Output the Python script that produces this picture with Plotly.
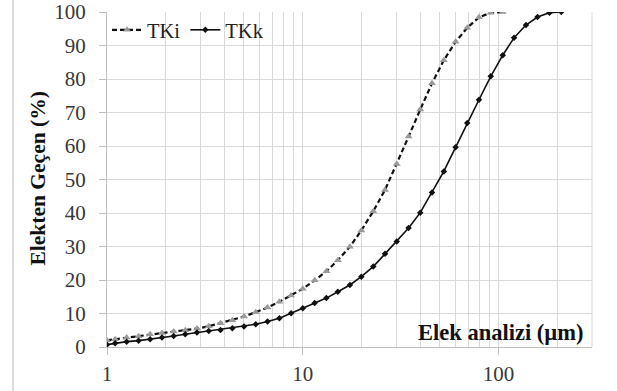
import plotly.graph_objects as go

# particle size (µm)
size_um = [1.0, 1.10, 1.26, 1.45, 1.66, 1.91, 2.19, 2.51, 2.88, 3.31, 3.80, 4.37, 5.01,
           5.75, 6.61, 7.59, 8.71, 10.0, 11.5, 13.2, 15.1, 17.4, 19.9, 22.9, 26.3,
           30.2, 34.7, 39.8, 45.7, 52.5, 60.3, 69.2, 79.4, 91.2, 105, 120, 138, 158,
           182, 209]

# cumulative passing (%)
tki = [2.0, 2.3, 2.8, 3.2, 3.8, 4.2, 4.6, 5.0, 5.5, 6.2, 7.1, 8.0, 9.1, 10.4, 11.8,
       13.5, 15.4, 17.4, 19.9, 22.6, 25.9, 29.9, 34.8, 40.5, 46.9, 54.6, 62.8, 70.9,
       78.7, 85.6, 91.1, 95.3, 98.4, 99.8, 100.0]
tkk = [0.7, 1.1, 1.6, 1.9, 2.3, 2.8, 3.3, 3.8, 4.3, 4.8, 5.1, 5.6, 6.1, 6.8, 7.6,
       8.6, 10.1, 11.6, 13.1, 14.6, 16.5, 18.5, 21.0, 24.0, 27.8, 31.5, 35.5, 40.1,
       46.1, 52.4, 59.6, 66.9, 73.8, 80.8, 87.1, 92.3, 96.1, 98.5, 99.8, 100.0]

y_ticks = list(range(0, 101, 10))
x_ticks = [1, 10, 100]
x_minor = [2, 3, 4, 5, 6, 7, 8, 9, 20, 30, 40, 50, 60, 70, 80, 90, 200]

SERIF = "Liberation Serif"
GRID = "#d9d9d9"

fig = go.Figure()
fig.add_trace(go.Scatter(
    x=size_um[:len(tki)], y=tki, name="TKi", mode="lines+markers",
    line=dict(color="#111111", width=2.2, dash="5px,3px"),
    marker=dict(symbol="triangle-up", size=7, color="#9a9a9a"),
))
fig.add_trace(go.Scatter(
    x=size_um[:len(tkk)], y=tkk, name="TKk", mode="lines+markers",
    line=dict(color="#111111", width=1.6),
    marker=dict(symbol="diamond", size=5, color="#111111"),
))

L, R, T, B = 107, 25, 12, 44
W, H = 617, 391
pw = W - L - R
ph = H - T - B

fig.update_layout(
    width=W, height=H, autosize=False,
    margin=dict(l=L, r=R, t=T, b=B, pad=0, autoexpand=False),
    paper_bgcolor="white", plot_bgcolor="white",
    font=dict(family=SERIF, size=21, color="#333333"),
    showlegend=True,
    legend=dict(orientation="h", x=0.0, y=1.006, xanchor="left", yanchor="top",
                bgcolor="rgba(0,0,0,0)", font=dict(family=SERIF, size=20.5, color="#222222"),
                itemwidth=30, tracegroupgap=0),
    xaxis=dict(
        type="log", range=[0, 2.4771],
        tickmode="array", tickvals=x_ticks, ticktext=[str(v) for v in x_ticks],
        showgrid=True, gridcolor=GRID, gridwidth=1,
        ticks="outside", ticklen=7, tickcolor="#bfbfbf",
        showline=True, linecolor="#bfbfbf", linewidth=1,
        zeroline=False, ticklabelstandoff=1,
        minor=dict(tickmode="array", tickvals=x_minor, showgrid=True,
                   gridcolor=GRID, gridwidth=1, ticks=""),
        tickfont=dict(family=SERIF, size=21, color="#383838"),
    ),
    yaxis=dict(
        range=[0, 100],
        tickmode="array", tickvals=y_ticks,
        showgrid=True, gridcolor=GRID, gridwidth=1,
        ticks="outside", ticklen=7, tickcolor="#bfbfbf",
        showline=True, linecolor="#bfbfbf", linewidth=1,
        zeroline=False, ticklabelstandoff=9,
        tickfont=dict(family=SERIF, size=21, color="#383838"),
    ),
)

# right border of plot area
fig.add_shape(type="line", xref="paper", yref="paper", x0=1, x1=1, y0=0, y1=1,
              line=dict(color=GRID, width=1))
# outer frame line on the left
fig.add_shape(type="line", xref="paper", yref="paper",
              x0=(13 - L) / pw, x1=(13 - L) / pw, y0=-B / ph, y1=1 + T / ph,
              line=dict(color="#bbbbbb", width=1))

# y-axis title
fig.add_annotation(
    text="<b>Elekten Geçen (%)</b>", xref="paper", yref="paper",
    x=(37 - L) / pw, y=(347 - 178.5) / ph, xanchor="center", yanchor="middle",
    textangle=-90, showarrow=False,
    font=dict(family=SERIF, size=21.5, color="#111111"),
)
# x-axis title inside plot
fig.add_annotation(
    text="<b>Elek analizi (µm)</b>", xref="paper", yref="paper",
    x=(585 - L) / pw, y=(347 - 332) / ph, xanchor="right", yanchor="middle", showarrow=False,
    font=dict(family=SERIF, size=22.5, color="#111111"),
)

fig.write_html("out.html", config={"responsive": False, "displayModeBar": False},
               post_script="document.body.style.margin='0';")
